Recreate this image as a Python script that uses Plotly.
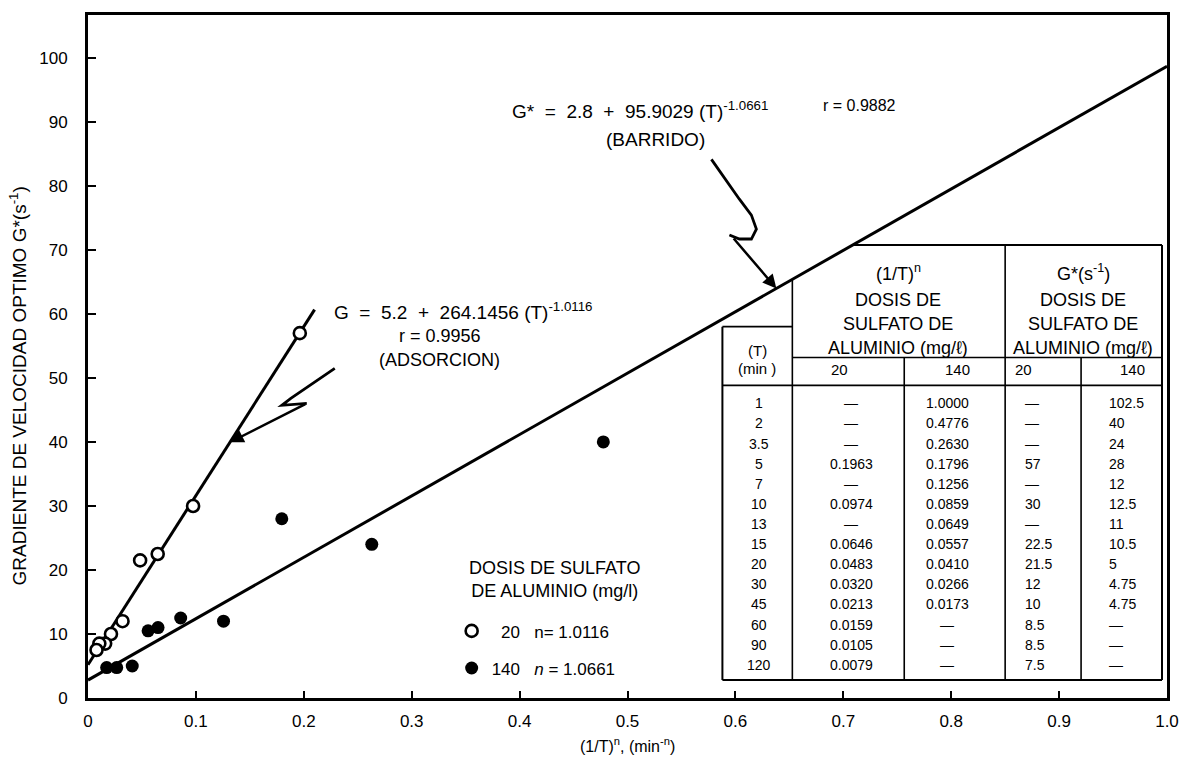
import plotly.graph_objects as go

# ---- Data -------------------------------------------------------------
# Contact time T (min) and the (1/T)^n and G* values for each alum dose
T_MIN = ["1", "2", "3.5", "5", "7", "10", "13", "15", "20", "30", "45", "60", "90", "120"]
X_20 = [None, None, None, 0.1963, None, 0.0974, None, 0.0646, 0.0483, 0.0320, 0.0213, 0.0159, 0.0105, 0.0079]
X_140 = [1.0000, 0.4776, 0.2630, 0.1796, 0.1256, 0.0859, 0.0649, 0.0557, 0.0410, 0.0266, 0.0173, None, None, None]
G_20 = [None, None, None, 57, None, 30, None, 22.5, 21.5, 12, 10, 8.5, 8.5, 7.5]
G_140 = [102.5, 40, 24, 28, 12, 12.5, 11, 10.5, 5, 4.75, 4.75, None, None, None]

DOSES = ["20", "140"]
N_20, N_140 = "1.0116", "1.0661"

# Fitted lines G = a + b (1/T)^n
FIT_ADSORCION = (5.2, 264.1456)
FIT_BARRIDO = (2.8, 95.9029)
R_ADSORCION, R_BARRIDO = "0.9956", "0.9882"
X_END_ADSORCION = 0.21

X_TICKS = [0, 0.1, 0.2, 0.3, 0.4, 0.5, 0.6, 0.7, 0.8, 0.9, 1.0]
X_TICK_TEXT = ["0", "0.1", "0.2", "0.3", "0.4", "0.5", "0.6", "0.7", "0.8", "0.9", "1.0"]
Y_TICKS = [0, 10, 20, 30, 40, 50, 60, 70, 80, 90, 100]
Y_TICK_TEXT = ["0", "10", "20", "30", "40", "50", "60", "70", "80", "90", "100"]

# ---- Layout geometry (figure pixels) -----------------------------------
W, H = 1191, 761
ML, MR, MT, MB = 88, 23, 12, 63
PW, PH = W - ML - MR, H - MT - MB
Y_MAX = 106.7
FONT = "Liberation Sans, Arial, Helvetica, sans-serif"
NB = "\u00a0"


def fx(px):
    """figure pixel x -> paper / data x"""
    return (px - ML) / PW


def fy(py):
    """figure pixel y -> paper y"""
    return (H - MB - py) / PH


def gy(py):
    """figure pixel y -> data y"""
    return fy(py) * Y_MAX


def fit(coef, x):
    return coef[0] + coef[1] * x


fig = go.Figure()

# Fitted lines
for coef, x_end in [(FIT_BARRIDO, 1.0), (FIT_ADSORCION, X_END_ADSORCION)]:
    fig.add_trace(go.Scatter(
        x=[0, x_end], y=[fit(coef, 0), fit(coef, x_end)], mode="lines",
        line=dict(color="black", width=3), showlegend=False, hoverinfo="skip"))

# Observed points
pts20 = [(x, g) for x, g in zip(X_20, G_20) if x is not None and g is not None]
pts140 = [(x, g) for x, g in zip(X_140, G_140) if x is not None and g is not None and x < 1.0]

fig.add_trace(go.Scatter(
    x=[p[0] for p in pts20], y=[p[1] for p in pts20], mode="markers",
    marker=dict(symbol="circle", size=12, color="white", line=dict(color="black", width=2.6)),
    name=NB * 2 + DOSES[0] + NB * 3 + "n= " + N_20, legendgroup="g20",
    cliponaxis=False))
fig.add_trace(go.Scatter(
    x=[p[0] for p in pts140], y=[p[1] for p in pts140], mode="markers",
    marker=dict(symbol="circle", size=13, color="black", line=dict(width=0)),
    name=DOSES[1] + NB * 3 + "<i>n</i> = " + N_140, legendgroup="g140",
    cliponaxis=False))

shapes = []
annotations = []

# ---- Data table -------------------------------------------------------
T_LEFT, T_RIGHT, T_TOP, T_BOTTOM = 723, 1163, 243, 680
C1, C2, C3, C4 = 793, 905, 1006, 1082
H_TBOX, H_SUB, H_HEAD = 325, 356, 384


def hline(x0, x1, py, w=1.6):
    shapes.append(dict(type="line", xref="x", yref="y", x0=x0, x1=x1, y0=gy(py), y1=gy(py),
                       line=dict(color="black", width=w)))


def vline(x, y0, y1, w=1.6):
    shapes.append(dict(type="line", xref="x", yref="y", x0=x, x1=x, y0=y0, y1=y1,
                       line=dict(color="black", width=w)))


top_g = gy(T_TOP)
x_top_start = (top_g - FIT_BARRIDO[0]) / FIT_BARRIDO[1]
hline(x_top_start, fx(T_RIGHT), T_TOP, 2)
hline(fx(T_LEFT), fx(T_RIGHT), T_BOTTOM, 2)
hline(fx(T_LEFT), fx(C1), H_TBOX)
hline(fx(C1), fx(T_RIGHT), H_SUB)
hline(fx(T_LEFT), fx(T_RIGHT), H_HEAD)
vline(fx(T_LEFT), gy(H_TBOX), gy(T_BOTTOM), 2)
vline(fx(T_RIGHT), top_g, gy(T_BOTTOM), 2)
vline(fx(C1), fit(FIT_BARRIDO, fx(C1)), gy(T_BOTTOM))
vline(fx(C2), gy(H_SUB), gy(T_BOTTOM))
vline(fx(C3), top_g, gy(T_BOTTOM))
vline(fx(C4), gy(H_SUB), gy(T_BOTTOM))


def text(px, py, s, size=14, anchor="center", **kw):
    annotations.append(dict(xref="paper", yref="paper", x=fx(px), y=fy(py), text=s,
                            showarrow=False, xanchor=anchor, yanchor="middle",
                            font=dict(family=FONT, size=size, color="black"), **kw))


hdr_lines = ["DOSIS DE", "SULFATO DE", "ALUMINIO (mg/\u2113)"]
for cx in (899, 1084):
    for k, s in enumerate(hdr_lines):
        text(cx, 298 + 24 * k, s, 18)
text(899, 271, "(1/T)<sup>n</sup>", 18)
text(1084, 271, "G*(s<sup>-1</sup>)", 18)
text(758, 349, "(T)", 15)
text(758, 367, "(min )", 15)
text(840, 368, DOSES[0], 15)
text(958, 368, DOSES[1], 15)
text(1024, 368, DOSES[0], 15)
text(1133, 368, DOSES[1], 15)


def fmt_x(v):
    return "\u2014" if v is None else f"{v:.4f}"


def fmt_g(v):
    return "\u2014" if v is None else f"{v:g}"


for i, t in enumerate(T_MIN):
    py = 402 + 20.2 * i
    text(760, py, t, 14)
    text(852, py, fmt_x(X_20[i]), 14)
    text(948, py, fmt_x(X_140[i]), 14)
    text(1024, py, fmt_g(G_20[i]), 14, "left")
    text(1108, py, fmt_g(G_140[i]), 14, "left")

# ---- Equations and labels ---------------------------------------------
SP = NB * 2
text(510, 107, f"G*{SP}={SP}{FIT_BARRIDO[0]}{SP}+{SP}{FIT_BARRIDO[1]} (T)<sup>-{N_140}</sup>", 19, "left")
text(822, 103, f"r = {R_BARRIDO}", 16, "left")
text(656, 137, "(BARRIDO)", 19)
text(332, 309, f"G{SP}={SP}{FIT_ADSORCION[0]}{SP}+{SP}{FIT_ADSORCION[1]} (T)<sup>-{N_20}</sup>", 19, "left")
text(440, 334, f"r = {R_ADSORCION}", 18)
text(440, 359, "(ADSORCION)", 18)
text(555, 579, "DOSIS DE SULFATO<br>DE ALUMINIO (mg/l)", 18)

# Axis titles
text(18, 385, "GRADIENTE DE VELOCIDAD OPTIMO G*(s<sup>-1</sup>)", 19, textangle=-90)
text(628, 745, "(1/T)<sup>n</sup>, (min<sup>-n</sup>)", 16)


# ---- Pointer arrows ---------------------------------------------------
def path(points):
    d = "M " + " L ".join(f"{fx(px)},{gy(py)}" for px, py in points)
    shapes.append(dict(type="path", xref="x", yref="y", path=d,
                       line=dict(color="black", width=2.8)))


# zig-zag pointing at the BARRIDO line
path([(712, 157), (740, 197), (752, 213), (757, 227), (752, 237), (740, 237), (730, 233)])
tip_b = 0.638
annotations.append(dict(xref="x", yref="y", axref="x", ayref="y",
                        x=tip_b, y=fit(FIT_BARRIDO, tip_b), ax=fx(733), ay=gy(235),
                        showarrow=True, arrowhead=2, arrowsize=1.1, arrowwidth=2.5,
                        arrowcolor="black", text=""))

# bolt pointing at the ADSORCION line
path([(335, 367), (291, 397), (282, 404), (307, 402)])
tip_a = 0.1315
annotations.append(dict(xref="x", yref="y", axref="x", ayref="y",
                        x=tip_a, y=fit(FIT_ADSORCION, tip_a), ax=fx(307), ay=gy(402),
                        showarrow=True, arrowhead=2, arrowsize=1.1, arrowwidth=2.5,
                        arrowcolor="black", text=""))

fig.update_layout(
    width=W, height=H, autosize=False,
    margin=dict(l=ML, r=MR, t=MT, b=MB, pad=0),
    paper_bgcolor="white", plot_bgcolor="white",
    font=dict(family=FONT, size=16, color="black"),
    shapes=shapes, annotations=annotations,
    showlegend=True,
    legend=dict(x=fx(452), y=fy(613), xanchor="left", yanchor="top",
                bgcolor="rgba(0,0,0,0)", font=dict(family=FONT, size=17, color="black"),
                tracegroupgap=12, traceorder="grouped"),
    xaxis=dict(range=[0, 1.0], tickvals=X_TICKS, ticktext=X_TICK_TEXT,
               showgrid=False, zeroline=False, showline=True, linecolor="black",
               linewidth=3, mirror=True, ticks="inside", ticklen=7, tickwidth=2,
               tickcolor="black", ticklabelstandoff=6,
               tickfont=dict(family=FONT, size=17, color="black")),
    yaxis=dict(range=[0, Y_MAX], tickvals=Y_TICKS, ticktext=Y_TICK_TEXT,
               showgrid=False, zeroline=False, showline=True, linecolor="black",
               linewidth=3, mirror=True, ticks="inside", ticklen=8, tickwidth=2,
               tickcolor="black", ticklabelstandoff=14,
               tickfont=dict(family=FONT, size=17, color="black")),
)

fig.write_html("out.html")
